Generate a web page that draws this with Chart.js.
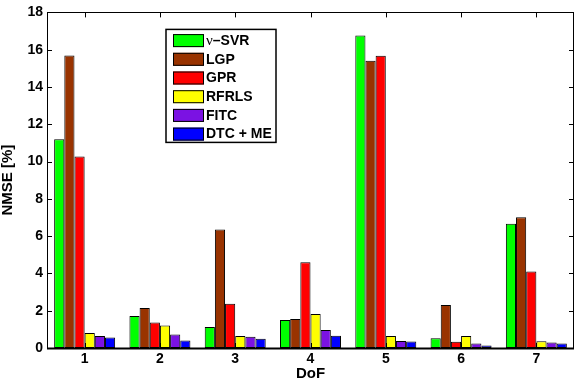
<!DOCTYPE html>
<html>
<head>
<meta charset="utf-8">
<script src="https://cdn.jsdelivr.net/npm/chart.js@4.4.1/dist/chart.umd.min.js"></script>
<style>
  html, body { margin: 0; padding: 0; background: #fff; }
  #wrap { width: 577px; height: 385px; }
</style>
</head>
<body>
<div id="wrap"><canvas id="c" width="577" height="385"></canvas></div>
<script>
// Degrees of freedom on the x axis
const dofLabels = ['1', '2', '3', '4', '5', '6', '7'];

// NMSE [%] per method and DoF
const nuSVR = [11.19, 1.71, 1.13, 1.50, 16.76, 0.52, 6.66];
const lgp   = [15.69, 2.15, 6.35, 1.55, 15.41, 2.30, 7.01];
const gpr   = [10.27, 1.37, 2.37, 4.60, 15.67, 0.33, 4.10];
const rfrls = [0.81, 1.21, 0.65, 1.82, 0.65, 0.65, 0.36];
const fitc  = [0.65, 0.72, 0.60, 0.97, 0.38, 0.24, 0.29];
const dtcMe = [0.56, 0.40, 0.49, 0.66, 0.35, 0.13, 0.24];

const methodNames = ['ν–SVR', 'LGP', 'GPR', 'RFRLS', 'FITC', 'DTC + ME'];
const methodValues = [nuSVR, lgp, gpr, rfrls, fitc, dtcMe];
const methodColors = ['#00ff00', '#993300', '#ff0000', '#ffff00', '#7b12e3', '#0000ff'];

// y axis ticks
const yTickValues = [0, 2, 4, 6, 8, 10, 12, 14, 16, 18];

const FONT = "'Liberation Sans', Arial, Helvetica, sans-serif";

// Boxed axes with inward tick marks on all four sides
const boxAxes = {
  id: 'boxAxes',
  afterDatasetsDraw(chart) {
    const { ctx, chartArea: a, scales } = chart;
    const tl = 5;
    ctx.save();
    ctx.strokeStyle = '#000';
    ctx.lineWidth = 1;
    ctx.beginPath();
    yTickValues.forEach(v => {
      const y = Math.round(scales.y.getPixelForValue(v)) + 0.5;
      ctx.moveTo(a.left, y); ctx.lineTo(a.left + tl, y);
      ctx.moveTo(a.right, y); ctx.lineTo(a.right - tl, y);
    });
    dofLabels.forEach((_, i) => {
      const x = Math.round(scales.x.getPixelForTick(i)) + 0.5;
      ctx.moveTo(x, a.bottom); ctx.lineTo(x, a.bottom - tl);
      ctx.moveTo(x, a.top); ctx.lineTo(x, a.top + tl);
    });
    ctx.stroke();
    ctx.lineWidth = 1;
    ctx.strokeRect(Math.round(a.left) + 0.5, Math.round(a.top) + 0.5,
                   Math.round(a.right - a.left) - 1, Math.round(a.bottom - a.top));
    // heavier baseline
    ctx.lineWidth = 2;
    ctx.beginPath();
    ctx.moveTo(a.left, Math.round(a.bottom) + 0.5);
    ctx.lineTo(a.right, Math.round(a.bottom) + 0.5);
    ctx.stroke();
    ctx.restore();
  }
};

// Boxed legend inside the plot area
const boxLegend = {
  id: 'boxLegend',
  afterDraw(chart) {
    const { ctx, chartArea: a } = chart;
    const left = a.left + 119, top = a.top + 17;
    const w = 110, h = 113;
    const rowH = 18.7;
    ctx.save();
    ctx.fillStyle = '#fff';
    ctx.fillRect(left, top, w, h);
    ctx.strokeStyle = '#000';
    ctx.lineWidth = 1.5;
    ctx.strokeRect(left, top, w, h);
    chart.data.datasets.forEach((ds, i) => {
      const sy = top + 4.7 + i * rowH;
      ctx.fillStyle = ds.backgroundColor;
      ctx.fillRect(left + 7, sy, 31, 13);
      ctx.lineWidth = 1;
      ctx.strokeStyle = '#000';
      ctx.strokeRect(left + 7.5, sy + 0.5, 30, 12);
      const ty = sy + 7;
      let tx = left + 40;
      ctx.textBaseline = 'middle';
      ctx.fillStyle = '#000';
      let label = ds.label;
      if (label.startsWith('ν')) {
        ctx.font = "15px 'Liberation Serif', 'Times New Roman', serif";
        ctx.fillText('ν', tx, ty);
        tx += ctx.measureText('ν').width;
        label = label.slice(1);
      }
      ctx.font = 'bold 14px ' + FONT;
      ctx.fillText(label, tx, ty);
    });
    ctx.restore();
  }
};

const datasets = methodNames.map((name, i) => ({
  label: name,
  data: methodValues[i],
  backgroundColor: methodColors[i],
  borderColor: '#000',
  borderWidth: 1,
  borderSkipped: false,
  categoryPercentage: 0.81,
  barPercentage: 1.0
}));

new Chart(document.getElementById('c'), {
  type: 'bar',
  data: { labels: dofLabels, datasets },
  options: {
    responsive: false,
    animation: false,
    events: [],
    layout: { padding: { top: 9, right: 3, left: 0, bottom: 0 } },
    plugins: { legend: { display: false }, tooltip: { enabled: false } },
    scales: {
      x: {
        grid: { display: false, drawTicks: false },
        border: { display: false },
        ticks: { color: '#000', font: { family: FONT, size: 14, weight: 'bold' }, padding: 3, maxRotation: 0 },
        title: { display: true, text: 'DoF', color: '#000', font: { family: FONT, size: 15, weight: 'bold', lineHeight: 1.2 }, padding: { top: 0, bottom: 2.5 } },
        afterFit(s) { s.height = 37; }
      },
      y: {
        min: 0, max: 18,
        grid: { display: false, drawTicks: false },
        border: { display: false },
        afterBuildTicks(s) { s.ticks = yTickValues.map(v => ({ value: v })); },
        ticks: { color: '#000', font: { family: FONT, size: 14, weight: 'bold' }, padding: 4 },
        title: { display: true, text: 'NMSE [%]', color: '#000', font: { family: FONT, size: 15, weight: 'bold', lineHeight: 1 }, padding: { top: 0, bottom: 0 } },
        afterFit(s) { s.width = 47; }
      }
    }
  },
  plugins: [boxAxes, boxLegend]
});
</script>
</body>
</html>
